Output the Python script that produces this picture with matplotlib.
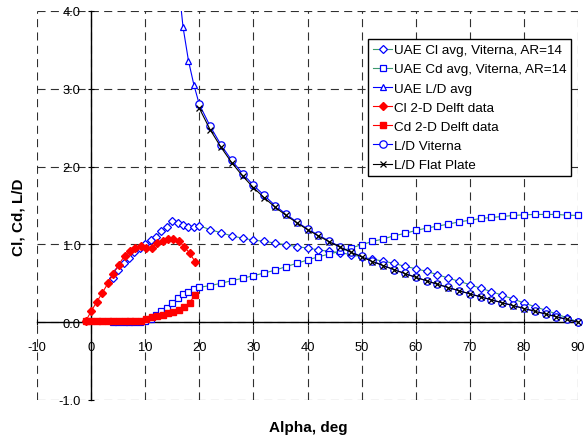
import matplotlib
matplotlib.use('Agg')
import matplotlib.pyplot as plt

plt.rcParams['font.family'] = ['Liberation Sans', 'DejaVu Sans']
plt.rcParams['lines.scale_dashes'] = False

# ---------------- data ----------------
uae_alpha = [4, 5, 6, 7, 8, 9, 10, 11, 12, 13, 14, 15, 16, 17, 18, 19,
             20, 22, 24, 26, 28, 30, 32, 34, 36, 38,
             40, 42, 44, 46, 48, 50, 52, 54, 56, 58,
             60, 62, 64, 66, 68, 70, 72, 74, 76, 78,
             80, 82, 84, 86, 88, 90]
uae_cl = [0.565, 0.67, 0.756, 0.825, 0.90, 0.96, 1.005, 1.055, 1.10, 1.17, 1.23, 1.30, 1.27, 1.25, 1.228, 1.218,
          1.24, 1.19, 1.15, 1.11, 1.08, 1.055, 1.04, 1.017, 0.996, 0.972,
          0.953, 0.93, 0.91, 0.895, 0.868, 0.84, 0.81, 0.785, 0.756, 0.718,
          0.688, 0.654, 0.611, 0.568, 0.526, 0.483, 0.436, 0.394, 0.346, 0.299,
          0.247, 0.201, 0.154, 0.107, 0.055, 0.004]
uae_cd = [0.005, 0.005, 0.005, 0.005, 0.005, 0.006, 0.01, 0.043, 0.09, 0.14, 0.187, 0.243, 0.305, 0.357, 0.39, 0.43,
          0.449, 0.47, 0.50, 0.534, 0.564, 0.598, 0.632, 0.668, 0.714, 0.756,
          0.80, 0.84, 0.876, 0.91, 0.953, 0.996, 1.038, 1.07, 1.111, 1.141,
          1.179, 1.209, 1.235, 1.26, 1.29, 1.31, 1.333, 1.346, 1.359, 1.372,
          1.38, 1.385, 1.385, 1.385, 1.376, 1.372]

uae_ld_alpha = [16, 17, 18, 19, 20]
uae_ld = [4.45, 3.79, 3.36, 3.05, 2.80]

delft_alpha = [-1.0, 0.0, 1.0, 2.1, 3.1, 4.1, 5.1, 6.2, 7.2, 8.2, 9.2,
               10.2, 11.2, 12.2, 13.2, 14.2, 15.2, 16.2, 17.2, 18.2, 19.2]
delft_cl = [0.013, 0.14, 0.256, 0.38, 0.50, 0.62, 0.74, 0.855, 0.92, 0.96, 0.975,
            0.953, 0.96, 1.017, 1.047, 1.07, 1.07, 1.047, 0.97, 0.89, 0.78]
delft_cd = [0.01, 0.01, 0.01, 0.01, 0.01, 0.01, 0.011, 0.011, 0.012, 0.015, 0.02,
            0.045, 0.073, 0.085, 0.098, 0.113, 0.13, 0.155, 0.19, 0.25, 0.35]

ld_alpha = [20, 22, 24, 26, 28, 30, 32, 34, 36, 38,
            40, 42, 44, 46, 48, 50, 52, 54, 56, 58,
            60, 62, 64, 66, 68, 70, 72, 74, 76, 78,
            80, 82, 84, 86, 88, 90]
vit_ld = [2.80, 2.52, 2.28, 2.08, 1.91, 1.76, 1.63, 1.50, 1.39, 1.29,
          1.20, 1.12, 1.045, 0.97, 0.905, 0.845, 0.785, 0.73, 0.675, 0.627,
          0.578, 0.533, 0.49, 0.447, 0.405, 0.366, 0.327, 0.29, 0.25, 0.215,
          0.178, 0.142, 0.106, 0.071, 0.035, 0.0]
flat_ld = [2.75, 2.475, 2.25, 2.05, 1.88, 1.73, 1.60, 1.48, 1.375, 1.28,
           1.19, 1.11, 1.035, 0.965, 0.90, 0.84, 0.78, 0.727, 0.675, 0.625,
           0.577, 0.532, 0.488, 0.445, 0.404, 0.364, 0.325, 0.287, 0.249, 0.213,
           0.176, 0.141, 0.105, 0.07, 0.035, 0.0]

x_ticks = [-10, 0, 10, 20, 30, 40, 50, 60, 70, 80, 90]
y_ticks = [-1.0, 0.0, 1.0, 2.0, 3.0, 4.0]

# ---------------- figure ----------------
fig = plt.figure(figsize=(5.84, 4.39), dpi=100)
ax = fig.add_axes([37 / 584, 1 - 401 / 439, 541 / 584, 389 / 439])

green = '#3c9a6e'
blue = '#0000ff'
lw = 0.8

ax.plot(uae_alpha, uae_cl, color=green, lw=lw, marker='D', ms=3.8, mfc='white',
        mec=blue, mew=0.9, label='UAE Cl avg, Viterna, AR=14', clip_on=False, zorder=3)
ax.plot(uae_alpha, uae_cd, color=green, lw=lw, marker='s', ms=4.3, mfc='white',
        mec=blue, mew=0.9, label='UAE Cd avg, Viterna, AR=14', clip_on=False, zorder=3)
ax.plot(uae_ld_alpha, uae_ld, color=blue, lw=lw, marker='^', ms=5, mfc='white',
        mec=blue, mew=0.9, label='UAE L/D avg', zorder=3)
ax.plot(delft_alpha, delft_cl, color='red', lw=lw, marker='D', ms=4.2, mfc='red',
        mec='red', label='Cl 2-D Delft data', clip_on=False, zorder=4)
ax.plot(delft_alpha, delft_cd, color='red', lw=lw, marker='s', ms=4.3, mfc='red',
        mec='red', label='Cd 2-D Delft data', clip_on=False, zorder=4)
ax.plot(ld_alpha, vit_ld, color=blue, lw=lw, marker='o', ms=5.3, mfc='white',
        mec=blue, mew=0.9, label='L/D Viterna', clip_on=False, zorder=4)
ax.plot(ld_alpha, flat_ld, color='black', lw=lw, marker='x', ms=3.8, mew=0.9,
        label='L/D Flat Plate', clip_on=False, zorder=5)

ax.set_xlim(-10, 90)
ax.set_ylim(-1, 4)
ax.set_xticks(x_ticks)
ax.set_yticks(y_ticks)
ax.set_xticklabels([str(t) for t in x_ticks])
ax.set_yticklabels(['%.1f' % t for t in y_ticks])

for s in ['top', 'right']:
    ax.spines[s].set_visible(False)
ax.spines['left'].set_position(('data', 0))
ax.spines['bottom'].set_position(('data', 0))
ax.spines['left'].set_linewidth(1.0)
ax.spines['bottom'].set_linewidth(1.0)

ax.grid(True, linestyle=(0, (5.8, 3.8)), color='#303030', linewidth=0.8)
ax.set_axisbelow(True)
ax.tick_params(axis='both', direction='inout', length=5, width=0.8,
               labelsize=9.3, colors='black')
ax.tick_params(axis='y', pad=5)
ax.tick_params(axis='x', pad=11)

fig.text(308 / 584, 1 - 428 / 439, 'Alpha, deg', ha='center', va='center',
         fontsize=11, fontweight='bold')
fig.text(19 / 584, 1 - 217 / 439, 'Cl, Cd, L/D', ha='center', va='center',
         rotation=90, fontsize=11, fontweight='bold')

leg = ax.legend(loc='upper left', bbox_to_anchor=(368 / 584, 1 - 40 / 439),
                bbox_transform=fig.transFigure, fontsize=9.7, numpoints=1,
                frameon=True, fancybox=False, framealpha=1, edgecolor='black',
                borderpad=0.36, labelspacing=0.5, handlelength=1.45,
                handletextpad=0.12, borderaxespad=0.0)
leg.get_frame().set_linewidth(1.0)
leg.set_zorder(10)

fig.savefig('out.png', dpi=100)
